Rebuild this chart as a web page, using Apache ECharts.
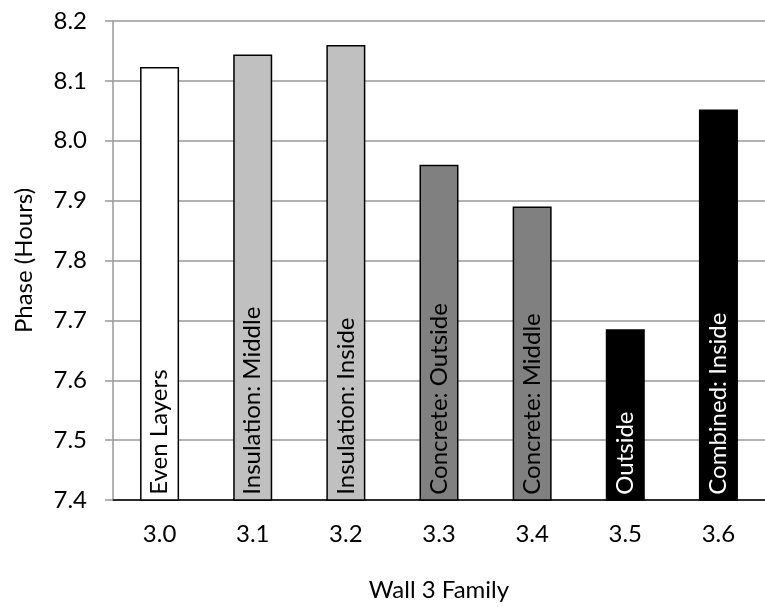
<!DOCTYPE html>
<html>
<head>
<meta charset="utf-8">
<script src="https://cdn.jsdelivr.net/npm/echarts@6/dist/echarts.min.js"></script>
<style>
  html, body { margin: 0; padding: 0; background: #fff; }
  #chart { width: 765px; height: 607px; }
</style>
</head>
<body>
<div id="chart"></div>
<script>
// data
const families = ['3.0', '3.1', '3.2', '3.3', '3.4', '3.5', '3.6'];
const phaseHours = [8.123, 8.144, 8.160, 7.960, 7.890, 7.685, 8.052];
const barNames = ['Even Layers', 'Insulation: Middle', 'Insulation: Inside',
  'Concrete: Outside', 'Concrete: Middle', 'Outside', 'Combined: Inside'];

// bar fill per family (white, light grey, dark grey, black)
const fills = ['#ffffff', '#c0c0c0', '#c0c0c0', '#808080', '#808080', '#000000', '#000000'];
const textColors = ['#000', '#000', '#000', '#000', '#000', '#fff', '#fff'];

const font = 'Lato';
const fs = 24;
const chart = echarts.init(document.getElementById('chart'));

const data = phaseHours.map((v, i) => ({
  value: v,
  itemStyle: { color: fills[i] },
  label: { formatter: barNames[i], color: textColors[i] }
}));

chart.setOption({
  animation: false,
  grid: { left: 113, right: -11, top: 21, bottom: 106 },
  xAxis: {
    type: 'category',
    data: families,
    name: 'Wall 3 Family',
    nameLocation: 'middle',
    nameGap: 78,
    nameTextStyle: { fontFamily: font, fontSize: fs, color: '#000' },
    axisLine: { lineStyle: { color: '#000', width: 1.5 } },
    axisTick: { length: 8, lineStyle: { color: '#000', width: 1.5 } },
    axisLabel: { fontFamily: font, fontSize: fs, color: '#000', margin: 22 }
  },
  yAxis: {
    type: 'value',
    min: 7.4,
    max: 8.2,
    interval: 0.1,
    name: 'Phase (Hours)',
    nameLocation: 'middle',
    nameGap: 77,
    nameTextStyle: { fontFamily: font, fontSize: fs, color: '#000' },
    axisLine: { show: true, lineStyle: { color: '#999', width: 1.5 } },
    axisTick: { show: true, length: 8, lineStyle: { color: '#999', width: 1.5 } },
    splitLine: { lineStyle: { color: '#999', width: 1.5 } },
    axisLabel: {
      fontFamily: font, fontSize: fs, color: '#000', margin: 26,
      formatter: v => v.toFixed(1)
    }
  },
  series: [{
    type: 'bar',
    data: data,
    barWidth: 39,
    itemStyle: { borderColor: '#000', borderWidth: 1.5 },
    label: {
      show: true,
      position: 'insideBottom',
      distance: 6,
      rotate: 90,
      align: 'left',
      verticalAlign: 'middle',
      fontFamily: font,
      fontSize: fs
    }
  }]
});
</script>
</body>
</html>
